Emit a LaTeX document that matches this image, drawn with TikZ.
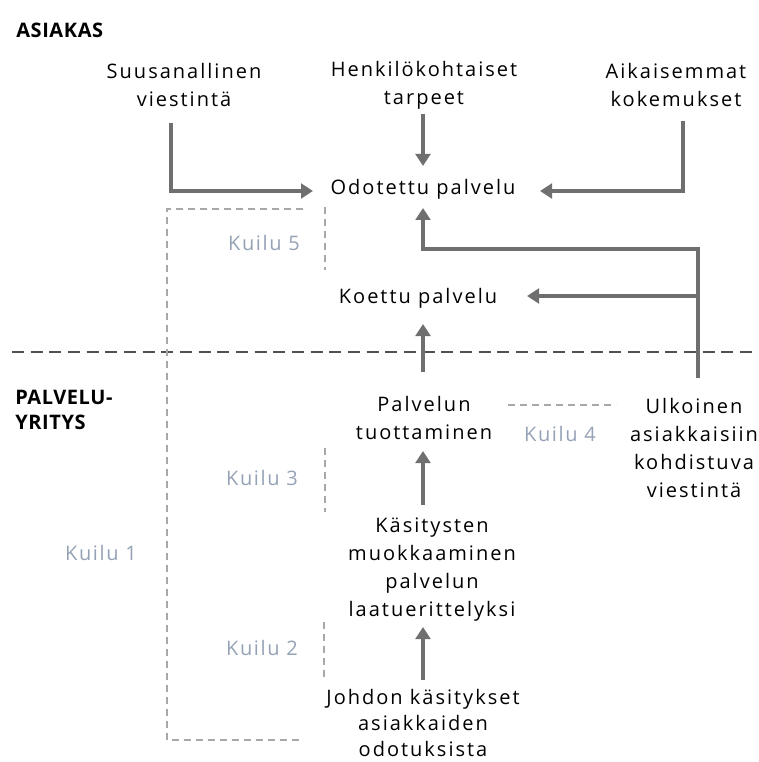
\documentclass[tikz,border=0pt]{standalone}
\usepackage{fontspec}
\setmainfont{Open Sans}
\newfontfamily\bodyfont[LetterSpace=10]{Open Sans}
\newfontfamily\headfont[LetterSpace=3]{Open Sans}
\newfontfamily\gapfont[LetterSpace=8]{Open Sans}
\usetikzlibrary{arrows.meta}
\definecolor{arrowgray}{HTML}{6F6F6F}
\definecolor{gapgray}{HTML}{A8A8A8}
\definecolor{gapblue}{HTML}{95A2B6}
\definecolor{divgray}{HTML}{505050}
\tikzset{
  txt/.style={align=center, font=\bodyfont\fontsize{15}{21}\selectfont, inner sep=0pt},
  tighttxt/.style={txt, font=\bodyfont\fontsize{15}{19.5}\selectfont},
  head/.style={align=left, anchor=west, font=\headfont\fontsize{15}{19}\selectfont\bfseries, inner sep=0pt},
  gaplbl/.style={text=gapblue, font=\gapfont\fontsize{15}{16}\selectfont, inner sep=0pt},
  flow/.style={draw=arrowgray, line width=3.2pt, -{Triangle[width=11pt,length=9pt]}},
  gapline/.style={draw=gapgray, line width=1.2pt, dash pattern=on 5pt off 4pt},
  divider/.style={draw=divgray, line width=1.3pt, dash pattern=on 9pt off 5pt}
}
\begin{document}
\begin{tikzpicture}[x=0.75pt,y=-0.75pt]
\useasboundingbox (0,0) rectangle (758,762);

% section headings
\node[head] (asiakas) at (16,30) {ASIAKAS};
\node[head] (yritys) at (15,410) {PALVELU-\\YRITYS};

% customer side
\node[txt] (suus) at (184,85) {Suusanallinen\\viestintä};
\node[txt] (henk) at (424,85) {Henkilökohtaiset\\tarpeet};
\node[txt] (aik) at (676,85) {Aikaisemmat\\kokemukset};
\node[txt] (odot) at (423,189) {Odotettu palvelu};
\node[txt] (koet) at (418,298) {Koettu palvelu};

% service provider side
\node[txt] (tuot) at (424,418) {Palvelun\\tuottaminen};
\node[txt] (ulk) at (694,448) {Ulkoinen\\asiakkaisiin\\kohdistuva\\viestintä};
\node[txt] (kas) at (432,570) {Käsitysten\\muokkaaminen\\palvelun\\laatuerittelyksi};
\node[tighttxt] (joh) at (423,723) {Johdon käsitykset\\asiakkaiden\\odotuksista};

% divider between customer and provider
\coordinate (divL) at (12,352);
\coordinate (divR) at (758,352);
\draw[divider] (divL) -- (divR);

% flows
\coordinate (suusB) at (171,123);
\coordinate (suusC) at (171,191);
\coordinate (suusT) at (313,191);
\draw[flow] (suusB) -- (suusC) -- (suusT);

\coordinate (henkB) at (423,114);
\coordinate (henkT) at (423,166);
\draw[flow] (henkB) -- (henkT);

\coordinate (aikB) at (683,121);
\coordinate (aikC) at (683,191);
\coordinate (aikT) at (540,191);
\draw[flow] (aikB) -- (aikC) -- (aikT);

\coordinate (ulkB) at (698,378);
\coordinate (ulkC) at (698,249);
\coordinate (odotC) at (423,249);
\coordinate (odotT) at (423,208);
\draw[flow] (ulkB) -- (ulkC) -- (odotC) -- (odotT);

\coordinate (ulkJ) at (698,296);
\coordinate (koetT) at (527,296);
\draw[flow] (ulkJ) -- (koetT);

\coordinate (tuotB) at (423,372);
\coordinate (koetB) at (423,324);
\draw[flow] (tuotB) -- (koetB);

\coordinate (kasB) at (423,505);
\coordinate (tuotT) at (423,451);
\draw[flow] (kasB) -- (tuotT);

\coordinate (johB) at (423,680);
\coordinate (kasT) at (423,627);
\draw[flow] (johB) -- (kasT);

% gaps
\coordinate (g1a) at (303,209);
\coordinate (g1b) at (167,209);
\coordinate (g1c) at (167,740);
\coordinate (g1d) at (303,740);
\draw[gapline] (g1a) -- (g1b) -- (g1c) -- (g1d);
\node[gaplbl] (k1) at (101,553) {Kuilu 1};

\coordinate (g5a) at (325,207);
\coordinate (g5b) at (325,270);
\draw[gapline] (g5a) -- (g5b);
\node[gaplbl] (k5) at (264,243) {Kuilu 5};

\coordinate (g3a) at (325,448);
\coordinate (g3b) at (325,512);
\draw[gapline] (g3a) -- (g3b);
\node[gaplbl] (k3) at (262,478) {Kuilu 3};

\coordinate (g2a) at (324,622);
\coordinate (g2b) at (324,681);
\draw[gapline] (g2a) -- (g2b);
\node[gaplbl] (k2) at (262,648) {Kuilu 2};

\coordinate (g4a) at (508,405);
\coordinate (g4b) at (616,405);
\draw[gapline] (g4a) -- (g4b);
\node[gaplbl] (k4) at (560,434) {Kuilu 4};
\end{tikzpicture}
\end{document}
